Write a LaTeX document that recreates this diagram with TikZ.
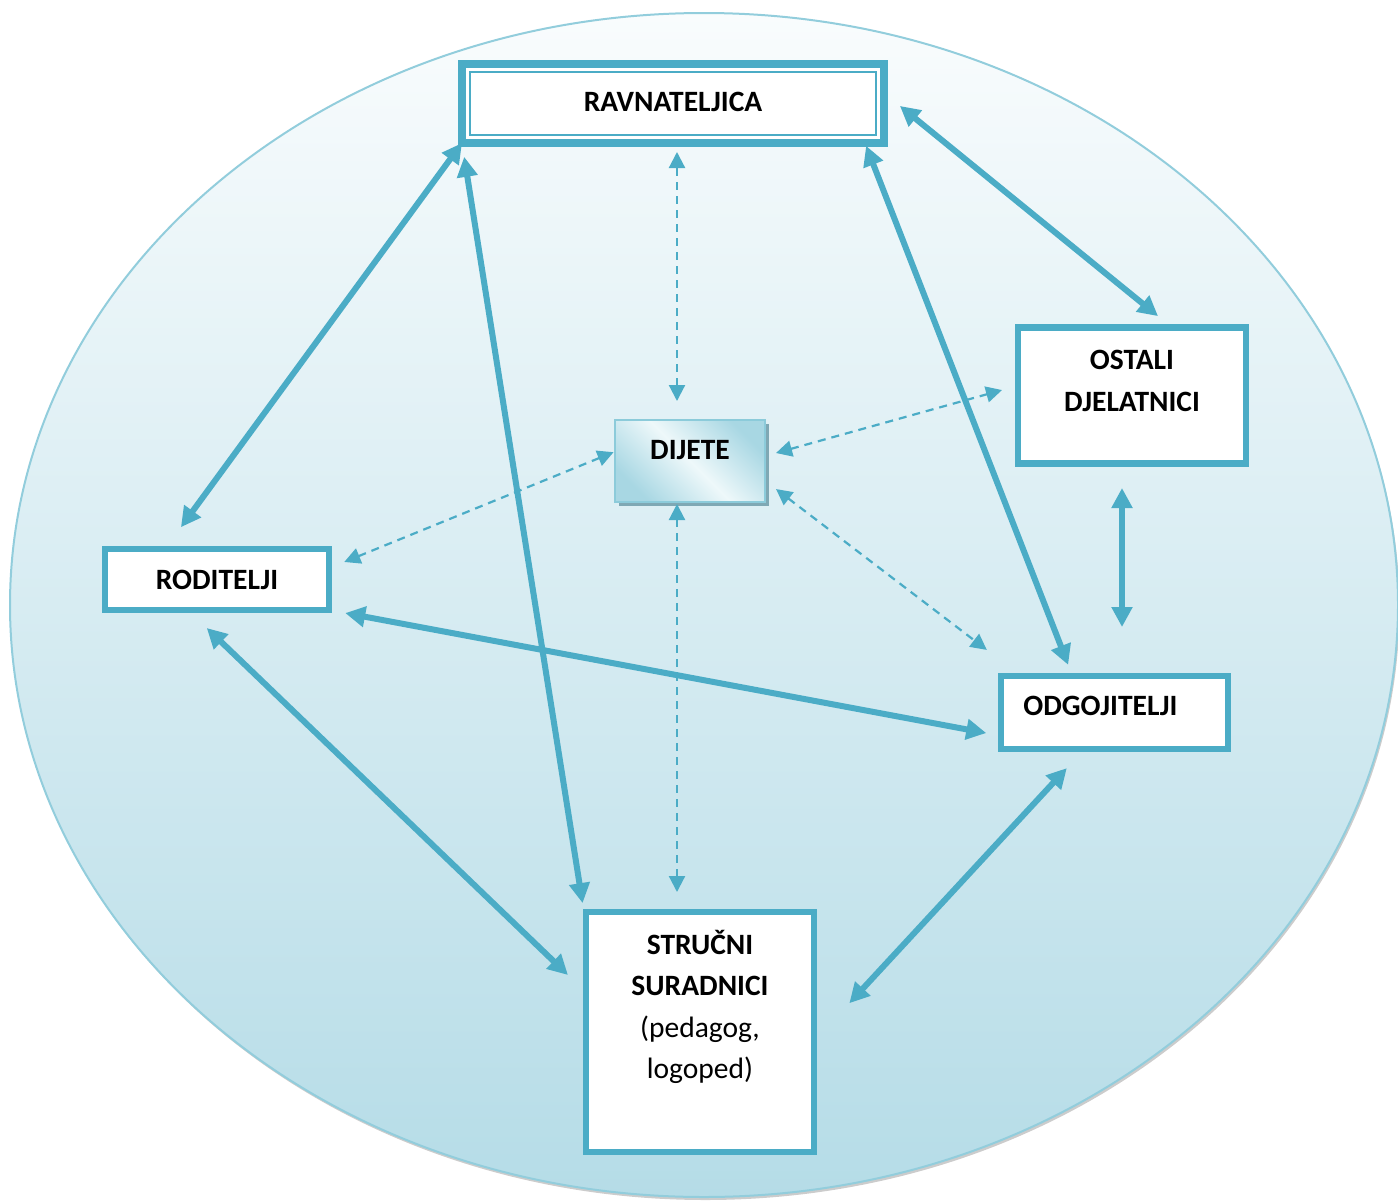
\documentclass[tikz,border=0pt]{standalone}
\usepackage{fontspec}
\setmainfont{Carlito}
\usepackage{tikz}
\usetikzlibrary{positioning,arrows.meta,shadows}

\definecolor{DEFINE_LINK_COLOR}{HTML}{4BACC6}
\definecolor{DEFINE_BG_TOP}{HTML}{F9FCFD}
\definecolor{DEFINE_BG_BOTTOM}{HTML}{B5DCE7}
\definecolor{DEFINE_BG_EDGE}{HTML}{92CDDC}
\definecolor{DEFINE_KID_EDGE}{HTML}{8CCBDA}
\definecolor{DEFINE_KID_DARK}{HTML}{A8D7E3}
\definecolor{DEFINE_KID_LIGHT}{HTML}{EEF8FA}
\definecolor{DEFINE_KID_SHADOW}{HTML}{7FA8B4}
\tikzset{
  bigtip/.tip={Triangle[length=20pt,width=20pt]},
  smalltip/.tip={Triangle[length=16pt,width=16pt]}
}
\tikzstyle{txt} = [font=\fontsize{29.5}{41.5}\selectfont\bfseries, align=center, inner sep=0pt, anchor=north]
\tikzstyle{layer} = [rectangle, fill=white, draw=DEFINE_LINK_COLOR, inner sep=0pt, outer sep=0pt]
\tikzstyle{role_box} = [layer, line width=6.5pt]
\tikzstyle{BG_LAYER} = [top color=DEFINE_BG_TOP, bottom color=DEFINE_BG_BOTTOM, draw=DEFINE_BG_EDGE, line width=2pt,
  drop shadow={shadow xshift=1.5pt, shadow yshift=-3pt, fill=black!40, opacity=0.5}]
\tikzstyle{RAV_LAYER} = [layer, line width=8pt, minimum width=422pt, minimum height=79pt]
\tikzstyle{inner_frame} = [draw=DEFINE_LINK_COLOR, line width=2.5pt]
\tikzstyle{KID_LAYER} = [rectangle, draw=DEFINE_KID_EDGE, line width=2pt, minimum width=150pt, minimum height=82pt,
  top color=DEFINE_KID_DARK, bottom color=DEFINE_KID_DARK, middle color=DEFINE_KID_LIGHT, shading angle=-45,
  drop shadow={shadow xshift=4pt, shadow yshift=-4pt, fill=DEFINE_KID_SHADOW, opacity=1}]
\tikzstyle{OST_LAYER} = [role_box, minimum width=228pt, minimum height=136pt]
\tikzstyle{ROD_LAYER} = [role_box, minimum width=224pt, minimum height=61pt]
\tikzstyle{ODG_LAYER} = [role_box, minimum width=227pt, minimum height=73pt]
\tikzstyle{STR_LAYER} = [role_box, minimum width=228pt, minimum height=240pt]
\tikzstyle{link} = [color=DEFINE_LINK_COLOR, line width=6pt, bigtip-bigtip]
\tikzstyle{kid_link} = [color=DEFINE_LINK_COLOR, line width=2.2pt, dash pattern=on 8pt off 6pt, smalltip-smalltip]

\begin{document}
\begin{tikzpicture}[x=1pt, y=-1pt]
      \useasboundingbox (0,0) rectangle (1398,1200);

      %%%%%%%%%%%%%%%%%%%%%%%%%%%%%%%%%%%%%%%%%%%%%%%%%
      % BACKGROUND
      %%%%%%%%%%%%%%%%%%%%%%%%%%%%%%%%%%%%%%%%%%%%%%%%%
      \path[BG_LAYER] (704,605) ellipse [x radius=694, y radius=592];

      %%%%%%%%%%%%%%%%%%%%%%%%%%%%%%%%%%%%%%%%%%%%%%%%%
      % BOXES
      %%%%%%%%%%%%%%%%%%%%%%%%%%%%%%%%%%%%%%%%%%%%%%%%%
      \node[RAV_LAYER, label={[txt, label distance=-28pt]90:RAVNATELJICA}] (RAV) at (673,103.5) {};
      \draw[inner_frame] ([shift={(8,8)}]RAV.north west) rectangle ([shift={(-8,-8)}]RAV.south east);
      \node[KID_LAYER, label={[txt, label distance=-21pt]90:DIJETE}] (DIJ) at (690,461) {};
      \node[OST_LAYER, label={[txt, label distance=-22.5pt]90:{OSTALI\\DJELATNICI}}] (OST) at (1132,395.5) {};
      \node[ROD_LAYER, label={[txt, label distance=-21pt]90:RODITELJI}] (ROD) at (217,579.5) {};
      \node[ODG_LAYER, label={[txt, xshift=-14pt, label distance=-19.5pt]90:ODGOJITELJI}] (ODG) at (1114.5,712.5) {};
      \node[STR_LAYER, label={[txt, label distance=-18pt]90:{STRUČNI\\SURADNICI\\\mdseries(pedagog,\\\mdseries logoped)}}] (STR) at (700,1032) {};

      %%%%%%%%%%%%%%%%%%%%%%%%%%%%%%%%%%%%%%%%%%%%%%%%%
      % LINKS BETWEEN ADULTS
      %%%%%%%%%%%%%%%%%%%%%%%%%%%%%%%%%%%%%%%%%%%%%%%%%
      \path[link]
      (RAV.south west) edge[shorten >=27pt] ([xshift=-52pt]ROD.north)
      (RAV.south west) edge[shorten <=14pt, shorten >=9pt] ([xshift=-2pt]STR.north west)
      ([xshift=-19pt]RAV.south east) edge[shorten <=3pt, shorten >=12pt] ([xshift=-42pt]ODG.north)
      ([yshift=10.5pt]RAV.east) edge[shorten <=20.5pt, shorten >=18pt] ([xshift=40pt]OST.north)
      ([xshift=-10pt]OST.south) edge[shorten <=24.5pt, shorten >=49pt] ([xshift=7.5pt]ODG.north)
      (ROD.south east) edge[shorten <=16.5pt, shorten >=15pt] ([yshift=-23.3pt]ODG.west)
      ([xshift=-29pt]ROD.south) edge[shorten <=26pt, shorten >=25pt] ([yshift=39.7pt]STR.west)
      ([xshift=-30pt]ODG.south) edge[shorten <=26pt, shorten >=52pt] ([yshift=-9.4pt]STR.east);

      %%%%%%%%%%%%%%%%%%%%%%%%%%%%%%%%%%%%%%%%%%%%%%%%%
      % LINKS TO THE CHILD
      %%%%%%%%%%%%%%%%%%%%%%%%%%%%%%%%%%%%%%%%%%%%%%%%%
      \path[kid_link]
      ([xshift=-13pt]DIJ.north) edge[shorten <=18pt, shorten >=9pt] ([xshift=4pt]RAV.south)
      ([xshift=-13pt]DIJ.south) edge[shorten <=1pt, shorten >=20pt] ([xshift=-23pt]STR.north)
      ([yshift=5.2pt]DIJ.east) edge[shorten <=10.4pt, shorten >=16.6pt] ([yshift=9.9pt]OST.west)
      ([yshift=9pt]DIJ.west) edge[shorten <=0.5pt, shorten >=16.5pt] ([yshift=11.3pt]ROD.east)
      ([yshift=-20.4pt]DIJ.east) edge[shorten <=12.6pt, shorten >=43pt] ([xshift=20pt]ODG.north west);

\end{tikzpicture}
\end{document}
